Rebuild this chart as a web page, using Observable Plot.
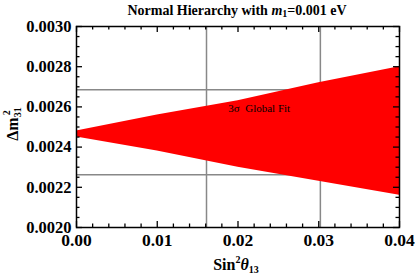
<!DOCTYPE html>
<html><head><meta charset="utf-8">
<script src="https://cdn.jsdelivr.net/npm/d3@7"></script>
<script src="https://cdn.jsdelivr.net/npm/@observablehq/plot@0.6"></script>
<style>body{margin:0;background:#fff}svg{overflow:visible}</style>
</head><body><div id="c"></div>
<script>
const xTicks = [0, 0.01, 0.02, 0.03, 0.04];
const yTicks = [0.0020, 0.0022, 0.0024, 0.0026, 0.0028, 0.0030];
const xMinor = [0.002,0.004,0.006,0.008,0.012,0.014,0.016,0.018,0.022,0.024,0.026,0.028,0.032,0.034,0.036,0.038];
const yMinor = [0.00205,0.0021,0.00215,0.00225,0.0023,0.00235,0.00245,0.0025,0.00255,0.00265,0.0027,0.00275,0.00285,0.0029,0.00295];
const xGrid = [0.0161, 0.0302];
const yGrid = [0.002262, 0.002685];
const s13 = [0, 0.01, 0.02, 0.03, 0.04];
const upper = [0.00248, 0.00256, 0.00263, 0.00272, 0.00280];
const lower = [0.00245, 0.00238, 0.00230, 0.00223, 0.00216];
const note = {x: 0.0188, y: 0.002592, text: "3σ  Global Fit"};

const band = s13.map((x, i) => ({x, lo: lower[i], hi: upper[i]}));

const W = 415, H = 278, ML = 76, MR = 16, MT = 26, MB = 51;
const PW = W - ML - MR, PH = H - MT - MB;
const tk = {stroke: "black", strokeWidth: 1.3};

const svg = Plot.plot({
  width: W, height: H,
  marginLeft: ML, marginRight: MR, marginTop: MT, marginBottom: MB,
  style: {fontFamily: "Liberation Serif", fontSize: "16.5px", fontWeight: "bold", color: "black", background: "white"},
  x: {domain: [0, 0.04]},
  y: {domain: [0.0020, 0.0030]},
  marks: [
    Plot.ruleX(xGrid, {stroke: "#888", strokeWidth: 1.5}),
    Plot.ruleY(yGrid, {stroke: "#888", strokeWidth: 1.5}),
    Plot.areaY(band, {x: "x", y1: "lo", y2: "hi", fill: "#ff0000"}),
    Plot.text([note], {x: "x", y: "y", text: "text", textAnchor: "start", fontSize: 11, fontWeight: "normal", fontFamily: "Liberation Serif"}),
    Plot.axisX({anchor: "bottom", ticks: xTicks, tickFormat: d3.format(".2f"), tickSize: 0, tickPadding: 6, fontSize: 17.5, label: null}),
    Plot.axisY({anchor: "left", ticks: yTicks, tickFormat: d3.format(".4f"), tickSize: 0, tickPadding: 5, label: null}),
    Plot.frame({stroke: "black", strokeWidth: 1.5}),
    Plot.tickX(xTicks, {x: d => d, insetTop: PH - 6, ...tk}),
    Plot.tickX(xMinor, {x: d => d, insetTop: PH - 3.5, ...tk}),
    Plot.tickX(xTicks, {x: d => d, insetBottom: PH - 6, ...tk}),
    Plot.tickX(xMinor, {x: d => d, insetBottom: PH - 3.5, ...tk}),
    Plot.tickY(yTicks, {y: d => d, insetRight: PW - 6, ...tk}),
    Plot.tickY(yMinor, {y: d => d, insetRight: PW - 3.5, ...tk}),
    Plot.tickY(yTicks, {y: d => d, insetLeft: PW - 6, ...tk}),
    Plot.tickY(yMinor, {y: d => d, insetLeft: PW - 3.5, ...tk})
  ]
});

const g = d3.select(svg).append("g").attr("font-family", "Liberation Serif").attr("font-weight", "bold").attr("fill", "black");
const t = g.append("text").attr("x", 237).attr("y", 15).attr("text-anchor", "middle").attr("font-size", 14);
t.append("tspan").text("Normal Hierarchy with ");
t.append("tspan").attr("font-style", "italic").text("m");
t.append("tspan").attr("font-size", 10).attr("dy", 2).text("1");
t.append("tspan").attr("dy", -2).text("=0.001 eV");

const xl = g.append("text").attr("x", 236).attr("y", 270).attr("text-anchor", "middle").attr("font-size", 16);
xl.append("tspan").text("Sin");
xl.append("tspan").attr("font-size", 10).attr("dy", -7).text("2");
xl.append("tspan").attr("dy", 7).attr("font-style", "italic").text("θ");
xl.append("tspan").attr("font-size", 10).attr("dy", 3).text("13");

const yl = g.append("text").attr("transform", "translate(18,124) rotate(-90)").attr("text-anchor", "middle").attr("font-size", 16);
yl.append("tspan").text("Δm");
yl.append("tspan").attr("font-size", 10).attr("dy", 3).text("31");
yl.append("tspan").attr("font-size", 10).attr("dx", -8).attr("dy", -11).text("2");

document.getElementById("c").appendChild(svg);
</script></body></html>
